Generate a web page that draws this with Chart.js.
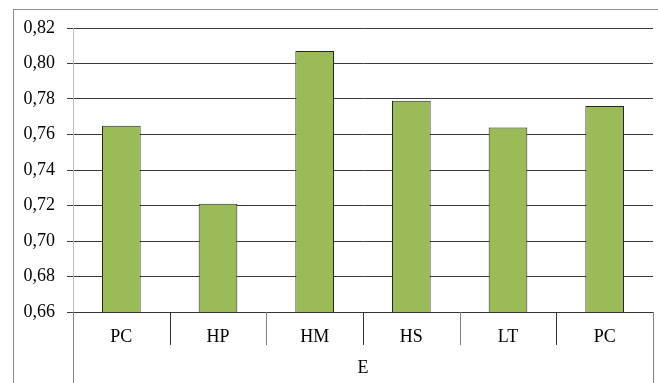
<!DOCTYPE html>
<html>
<head>
<meta charset="utf-8">
<script src="https://cdn.jsdelivr.net/npm/chart.js@4/dist/chart.umd.min.js"></script>
<style>
  html,body{margin:0;padding:0;background:#fff}
  #wrap{width:658px;height:383px}
</style>
</head>
<body>
<div id="wrap"><canvas id="chart" width="658" height="383"></canvas></div>
<script>
/* data */
const categories = ['PC', 'HP', 'HM', 'HS', 'LT', 'PC'];
const values     = [0.765, 0.721, 0.807, 0.779, 0.764, 0.776];
const groupLabels = ['E'];
const yMin = 0.66, yMax = 0.82, yStep = 0.02;

Chart.defaults.font.family = '"Liberation Serif", "Times New Roman", serif';
Chart.defaults.font.size   = 18;
Chart.defaults.color       = '#000';

/* outer frame, category separators and group row */
const framePlugin = {
  id: 'frame',
  afterDraw(chart){
    const ctx = chart.ctx, xs = chart.scales.x;
    ctx.save();
    ctx.strokeStyle = '#8c8c8c';
    ctx.lineWidth = 1;
    ctx.strokeRect(13.5, 9.5, 700, 500);

    const half = (xs.getPixelForValue(1) - xs.getPixelForValue(0)) / 2;
    const n = categories.length;
    for(let i = 0; i <= n; i++){
      const x = Math.round(xs.getPixelForValue(i) - half) + 0.5;
      const outer = (i === 0 || i === n);
      ctx.strokeStyle = (i % 2 === 1 && !outer) ? '#333' : '#808080';
      ctx.beginPath();
      ctx.moveTo(x, xs.top);
      ctx.lineTo(x, outer ? chart.height : xs.top + 33);
      ctx.stroke();
    }

    ctx.fillStyle = '#000';
    ctx.textAlign = 'center';
    ctx.textBaseline = 'middle';
    ctx.font = Chart.helpers.toFont(Chart.defaults.font).string;
    const cx = (xs.left + xs.right) / 2;
    ctx.fillText(groupLabels[0], cx, xs.top + 56);
    ctx.restore();
  }
};

new Chart(document.getElementById('chart'), {
  type: 'bar',
  data: {
    labels: categories,
    datasets: [{
      data: values,
      backgroundColor: '#9BBB59',
      borderColor: '#262626',
      borderWidth: 1,
      barPercentage: 0.4,
      categoryPercentage: 1
    }]
  },
  options: {
    responsive: false,
    animation: false,
    devicePixelRatio: 1,
    layout: { padding: { top: 28, right: 5, left: 0, bottom: 0 } },
    plugins: { legend: { display: false }, tooltip: { enabled: false } },
    scales: {
      x: {
        grid: { display: false },
        border: { color: '#333', width: 1 },
        ticks: { padding: 6, color: '#000' },
        afterFit(scale){ scale.height = 71; }
      },
      y: {
        min: yMin, max: yMax,
        ticks: {
          stepSize: yStep,
          padding: 12,
          color: '#000',
          callback: v => v.toFixed(2).replace('.', ',')
        },
        grid: { color: '#3a3a3a', tickLength: 6 },
        border: { color: '#bdbdbd', width: 1 },
        afterFit(scale){ scale.width = 73; }
      }
    }
  },
  plugins: [framePlugin]
});
</script>
</body>
</html>
